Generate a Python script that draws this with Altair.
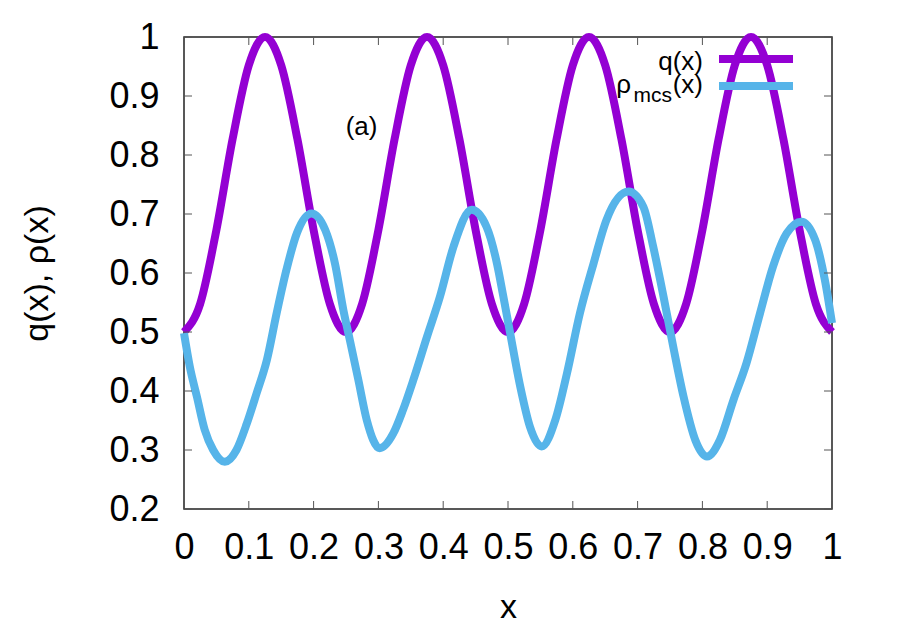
import altair as alt
import pandas as pd

# ---------------- data ----------------
q_x = [0.000, 0.025, 0.050, 0.075, 0.100, 0.125, 0.150, 0.175, 0.200, 0.225,
       0.250, 0.275, 0.300, 0.325, 0.350, 0.375, 0.400, 0.425, 0.450, 0.475,
       0.500, 0.525, 0.550, 0.575, 0.600, 0.625, 0.650, 0.675, 0.700, 0.725,
       0.750, 0.775, 0.800, 0.825, 0.850, 0.875, 0.900, 0.925, 0.950, 0.975,
       1.000]
q_y = [0.500, 0.548, 0.673, 0.827, 0.952, 1.000, 0.952, 0.827, 0.673, 0.548,
       0.500, 0.548, 0.673, 0.827, 0.952, 1.000, 0.952, 0.827, 0.673, 0.548,
       0.500, 0.548, 0.673, 0.827, 0.952, 1.000, 0.952, 0.827, 0.673, 0.548,
       0.500, 0.548, 0.673, 0.827, 0.952, 1.000, 0.952, 0.827, 0.673, 0.548,
       0.500]

rho_x = [0.000, 0.009, 0.020, 0.032, 0.045, 0.063, 0.081, 0.097, 0.112, 0.128,
         0.143, 0.158, 0.174, 0.197, 0.218, 0.233, 0.246, 0.256, 0.269, 0.282,
         0.302, 0.323, 0.338, 0.354, 0.375, 0.395, 0.416, 0.444, 0.467, 0.483,
         0.492, 0.503, 0.519, 0.534, 0.552, 0.573, 0.591, 0.611, 0.632, 0.652,
         0.686, 0.709, 0.724, 0.740, 0.755, 0.771, 0.789, 0.807, 0.827, 0.848,
         0.868, 0.889, 0.909, 0.930, 0.953, 0.974, 0.989, 1.000]
rho_y = [0.498, 0.441, 0.390, 0.334, 0.300, 0.280, 0.300, 0.345, 0.396, 0.453,
         0.532, 0.605, 0.667, 0.701, 0.673, 0.616, 0.537, 0.486, 0.419, 0.351,
         0.303, 0.328, 0.368, 0.419, 0.492, 0.560, 0.645, 0.707, 0.678, 0.616,
         0.565, 0.500, 0.407, 0.339, 0.306, 0.351, 0.430, 0.532, 0.616, 0.690,
         0.738, 0.712, 0.645, 0.560, 0.475, 0.390, 0.317, 0.289, 0.317, 0.385,
         0.447, 0.532, 0.611, 0.667, 0.687, 0.656, 0.588, 0.515]

x_ticks = [0, 0.1, 0.2, 0.3, 0.4, 0.5, 0.6, 0.7, 0.8, 0.9, 1]
y_ticks = [0.2, 0.3, 0.4, 0.5, 0.6, 0.7, 0.8, 0.9, 1]

annot_x = [0.274]
annot_y = [0.848]
annot_text = ["(a)"]

series_names = ["q(x)", "ρmcs(x)"]
series_colors = ["#9400D3", "#56B4E9"]

# ---------------- chart ----------------
W, H = 648, 472
FONT = "Liberation Sans"
TICK = 8
LW = 8

q_df = pd.DataFrame({"x": q_x, "y": q_y})
rho_df = pd.DataFrame({"x": rho_x, "y": rho_y})
xt_df = pd.DataFrame({"x": x_ticks})
yt_df = pd.DataFrame({"y": y_ticks})
ann_df = pd.DataFrame({"x": annot_x, "y": annot_y, "label": annot_text})
one = pd.DataFrame({"k": [0]})

xscale = alt.Scale(domain=[0, 1], nice=False, zero=False)
yscale = alt.Scale(domain=[0.2, 1], nice=False, zero=False)

x_axis = alt.Axis(values=x_ticks, format=".1~f", title="x", labelFlush=False,
                  labelPadding=21, titlePadding=25)
y_axis = alt.Axis(values=y_ticks, format=".1~f", title="q(x), ρ(x)", labelFlush=False,
                  labelPadding=25, titlePadding=54)
X = alt.X("x:Q", scale=xscale, axis=x_axis)
Y = alt.Y("y:Q", scale=yscale, axis=y_axis)

q_line = alt.Chart(q_df).mark_line(
    color=series_colors[0], strokeWidth=LW, interpolate="monotone"
).encode(x=X, y=Y)

rho_line = alt.Chart(rho_df).mark_line(
    color=series_colors[1], strokeWidth=LW, interpolate="monotone"
).encode(x=X, y=Y)

tick_color = "#555555"
bottom_ticks = alt.Chart(xt_df).mark_rule(color=tick_color, strokeWidth=1).encode(
    x=X, y=alt.value(H), y2=alt.value(H - TICK))
top_ticks = alt.Chart(xt_df).mark_rule(color=tick_color, strokeWidth=1).encode(
    x=X, y=alt.value(0), y2=alt.value(TICK))
left_ticks = alt.Chart(yt_df).mark_rule(color=tick_color, strokeWidth=1).encode(
    y=Y, x=alt.value(0), x2=alt.value(TICK))
right_ticks = alt.Chart(yt_df).mark_rule(color=tick_color, strokeWidth=1).encode(
    y=Y, x=alt.value(W), x2=alt.value(W - TICK))

annot = alt.Chart(ann_df).mark_text(
    font=FONT, fontSize=26, align="center", baseline="middle", color="black"
).encode(x=X, y=Y, text="label:N")

# legend (gnuplot style: text to the left of the sample line)
leg_q_text = alt.Chart(one).mark_text(
    font=FONT, fontSize=26, align="right", baseline="alphabetic", color="black",
    text=series_names[0]
).encode(x=alt.value(519), y=alt.value(32.5))
leg_q_line = alt.Chart(one).mark_rule(color=series_colors[0], strokeWidth=8).encode(
    x=alt.value(535), x2=alt.value(609), y=alt.value(22))

leg_r_rho = alt.Chart(one).mark_text(
    font=FONT, fontSize=26, align="right", baseline="alphabetic", color="black",
    text="ρ"
).encode(x=alt.value(447), y=alt.value(55.5))
leg_r_sub = alt.Chart(one).mark_text(
    font=FONT, fontSize=21, align="right", baseline="alphabetic", color="black",
    text="mcs"
).encode(x=alt.value(488), y=alt.value(65))
leg_r_x = alt.Chart(one).mark_text(
    font=FONT, fontSize=26, align="right", baseline="alphabetic", color="black",
    text="(x)"
).encode(x=alt.value(519), y=alt.value(55.5))
leg_r_line = alt.Chart(one).mark_rule(color=series_colors[1], strokeWidth=8).encode(
    x=alt.value(535), x2=alt.value(609), y=alt.value(49))

chart = alt.layer(
    q_line, rho_line, bottom_ticks, top_ticks, left_ticks, right_ticks, annot,
    leg_q_text, leg_q_line, leg_r_rho, leg_r_sub, leg_r_x, leg_r_line
).properties(
    width=W, height=H,
    autosize=alt.AutoSizeParams(type="none"),
    padding={"left": 176, "top": 29, "right": 60, "bottom": 113},
).configure_view(
    stroke="#222222", strokeWidth=1.5
).configure_axis(
    domain=False, ticks=False, grid=False,
    labelFont=FONT, labelFontSize=36, labelColor="black",
    titleFont=FONT, titleFontSize=34, titleFontWeight="normal", titleColor="black",
)

chart.save("out.html", embed_options={"renderer": "svg", "actions": False})
